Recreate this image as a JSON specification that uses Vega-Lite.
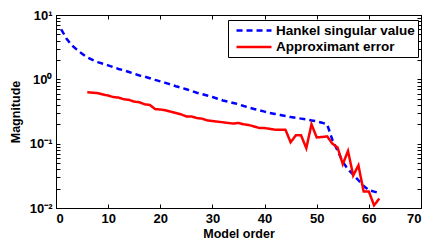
{
  "$schema": "https://vega.github.io/schema/vega-lite/v6.json",
  "width": 365,
  "height": 193,
  "autosize": "none",
  "padding": {"left": 56, "top": 15, "right": 6, "bottom": 35},
  "background": "white",
  "config": {
    "view": {"stroke": "black", "strokeWidth": 1},
    "font": "Liberation Sans",
    "axis": {
      "grid": false,
      "domainColor": "black",
      "tickColor": "black",
      "labelColor": "black",
      "titleColor": "black",
      "labelFont": "Liberation Sans",
      "titleFont": "Liberation Sans",
      "labelFontWeight": "bold",
      "titleFontWeight": "bold",
      "labelFontSize": 13,
      "titleFontSize": 12.5,
      "tickSize": -4
    }
  },
  "datasets": {
    "d": [
      {"x": 1, "v": 6.0, "s": "Hankel singular value"},
      {"x": 2, "v": 4.3, "s": "Hankel singular value"},
      {"x": 3, "v": 3.4, "s": "Hankel singular value"},
      {"x": 4, "v": 2.9, "s": "Hankel singular value"},
      {"x": 5, "v": 2.5, "s": "Hankel singular value"},
      {"x": 6, "v": 2.2, "s": "Hankel singular value"},
      {"x": 7, "v": 2.0, "s": "Hankel singular value"},
      {"x": 8, "v": 1.85, "s": "Hankel singular value"},
      {"x": 9, "v": 1.75, "s": "Hankel singular value"},
      {"x": 10, "v": 1.65, "s": "Hankel singular value"},
      {"x": 11, "v": 1.55, "s": "Hankel singular value"},
      {"x": 12, "v": 1.45, "s": "Hankel singular value"},
      {"x": 13, "v": 1.38, "s": "Hankel singular value"},
      {"x": 14, "v": 1.3, "s": "Hankel singular value"},
      {"x": 15, "v": 1.22, "s": "Hankel singular value"},
      {"x": 16, "v": 1.15, "s": "Hankel singular value"},
      {"x": 17, "v": 1.1, "s": "Hankel singular value"},
      {"x": 18, "v": 1.04, "s": "Hankel singular value"},
      {"x": 19, "v": 0.98, "s": "Hankel singular value"},
      {"x": 20, "v": 0.93, "s": "Hankel singular value"},
      {"x": 21, "v": 0.88, "s": "Hankel singular value"},
      {"x": 22, "v": 0.83, "s": "Hankel singular value"},
      {"x": 23, "v": 0.78, "s": "Hankel singular value"},
      {"x": 24, "v": 0.74, "s": "Hankel singular value"},
      {"x": 25, "v": 0.7, "s": "Hankel singular value"},
      {"x": 26, "v": 0.66, "s": "Hankel singular value"},
      {"x": 27, "v": 0.62, "s": "Hankel singular value"},
      {"x": 28, "v": 0.59, "s": "Hankel singular value"},
      {"x": 29, "v": 0.56, "s": "Hankel singular value"},
      {"x": 30, "v": 0.53, "s": "Hankel singular value"},
      {"x": 31, "v": 0.5, "s": "Hankel singular value"},
      {"x": 32, "v": 0.47, "s": "Hankel singular value"},
      {"x": 33, "v": 0.45, "s": "Hankel singular value"},
      {"x": 34, "v": 0.43, "s": "Hankel singular value"},
      {"x": 35, "v": 0.41, "s": "Hankel singular value"},
      {"x": 36, "v": 0.385, "s": "Hankel singular value"},
      {"x": 37, "v": 0.365, "s": "Hankel singular value"},
      {"x": 38, "v": 0.345, "s": "Hankel singular value"},
      {"x": 39, "v": 0.33, "s": "Hankel singular value"},
      {"x": 40, "v": 0.315, "s": "Hankel singular value"},
      {"x": 41, "v": 0.3, "s": "Hankel singular value"},
      {"x": 42, "v": 0.29, "s": "Hankel singular value"},
      {"x": 43, "v": 0.28, "s": "Hankel singular value"},
      {"x": 44, "v": 0.27, "s": "Hankel singular value"},
      {"x": 45, "v": 0.26, "s": "Hankel singular value"},
      {"x": 46, "v": 0.252, "s": "Hankel singular value"},
      {"x": 47, "v": 0.245, "s": "Hankel singular value"},
      {"x": 48, "v": 0.238, "s": "Hankel singular value"},
      {"x": 49, "v": 0.23, "s": "Hankel singular value"},
      {"x": 50, "v": 0.222, "s": "Hankel singular value"},
      {"x": 51, "v": 0.212, "s": "Hankel singular value"},
      {"x": 52, "v": 0.2, "s": "Hankel singular value"},
      {"x": 53, "v": 0.115, "s": "Hankel singular value"},
      {"x": 54, "v": 0.078, "s": "Hankel singular value"},
      {"x": 55, "v": 0.052, "s": "Hankel singular value"},
      {"x": 56, "v": 0.04, "s": "Hankel singular value"},
      {"x": 57, "v": 0.033, "s": "Hankel singular value"},
      {"x": 58, "v": 0.027, "s": "Hankel singular value"},
      {"x": 59, "v": 0.022, "s": "Hankel singular value"},
      {"x": 60, "v": 0.019, "s": "Hankel singular value"},
      {"x": 61, "v": 0.018, "s": "Hankel singular value"},
      {"x": 62, "v": 0.017, "s": "Hankel singular value"},
      {"x": 6, "v": 0.63, "s": "Approximant error"},
      {"x": 7, "v": 0.62, "s": "Approximant error"},
      {"x": 8, "v": 0.61, "s": "Approximant error"},
      {"x": 9, "v": 0.58, "s": "Approximant error"},
      {"x": 10, "v": 0.56, "s": "Approximant error"},
      {"x": 11, "v": 0.53, "s": "Approximant error"},
      {"x": 12, "v": 0.52, "s": "Approximant error"},
      {"x": 13, "v": 0.49, "s": "Approximant error"},
      {"x": 14, "v": 0.48, "s": "Approximant error"},
      {"x": 15, "v": 0.45, "s": "Approximant error"},
      {"x": 16, "v": 0.44, "s": "Approximant error"},
      {"x": 17, "v": 0.41, "s": "Approximant error"},
      {"x": 18, "v": 0.4, "s": "Approximant error"},
      {"x": 19, "v": 0.345, "s": "Approximant error"},
      {"x": 20, "v": 0.34, "s": "Approximant error"},
      {"x": 21, "v": 0.33, "s": "Approximant error"},
      {"x": 22, "v": 0.315, "s": "Approximant error"},
      {"x": 23, "v": 0.3, "s": "Approximant error"},
      {"x": 24, "v": 0.285, "s": "Approximant error"},
      {"x": 25, "v": 0.265, "s": "Approximant error"},
      {"x": 26, "v": 0.265, "s": "Approximant error"},
      {"x": 27, "v": 0.25, "s": "Approximant error"},
      {"x": 28, "v": 0.245, "s": "Approximant error"},
      {"x": 29, "v": 0.23, "s": "Approximant error"},
      {"x": 30, "v": 0.225, "s": "Approximant error"},
      {"x": 31, "v": 0.22, "s": "Approximant error"},
      {"x": 32, "v": 0.215, "s": "Approximant error"},
      {"x": 33, "v": 0.21, "s": "Approximant error"},
      {"x": 34, "v": 0.205, "s": "Approximant error"},
      {"x": 35, "v": 0.21, "s": "Approximant error"},
      {"x": 36, "v": 0.2, "s": "Approximant error"},
      {"x": 37, "v": 0.195, "s": "Approximant error"},
      {"x": 38, "v": 0.185, "s": "Approximant error"},
      {"x": 39, "v": 0.175, "s": "Approximant error"},
      {"x": 40, "v": 0.175, "s": "Approximant error"},
      {"x": 41, "v": 0.17, "s": "Approximant error"},
      {"x": 42, "v": 0.165, "s": "Approximant error"},
      {"x": 43, "v": 0.165, "s": "Approximant error"},
      {"x": 44, "v": 0.165, "s": "Approximant error"},
      {"x": 45, "v": 0.105, "s": "Approximant error"},
      {"x": 46, "v": 0.135, "s": "Approximant error"},
      {"x": 47, "v": 0.135, "s": "Approximant error"},
      {"x": 48, "v": 0.085, "s": "Approximant error"},
      {"x": 49, "v": 0.2, "s": "Approximant error"},
      {"x": 50, "v": 0.125, "s": "Approximant error"},
      {"x": 51, "v": 0.127, "s": "Approximant error"},
      {"x": 52, "v": 0.13, "s": "Approximant error"},
      {"x": 53, "v": 0.1, "s": "Approximant error"},
      {"x": 54, "v": 0.087, "s": "Approximant error"},
      {"x": 55, "v": 0.048, "s": "Approximant error"},
      {"x": 56, "v": 0.077, "s": "Approximant error"},
      {"x": 57, "v": 0.032, "s": "Approximant error"},
      {"x": 58, "v": 0.046, "s": "Approximant error"},
      {"x": 59, "v": 0.018, "s": "Approximant error"},
      {"x": 60, "v": 0.018, "s": "Approximant error"},
      {"x": 61, "v": 0.011, "s": "Approximant error"},
      {"x": 62, "v": 0.014, "s": "Approximant error"}
    ]
  },
  "data": {"name": "d"},
  "layer": [
    {
      "mark": {"type": "line", "opacity": 0},
      "encoding": {
        "x": {"field": "x", "type": "quantitative", "scale": {"domain": [0, 70], "nice": false},
          "axis": {"orient": "top", "labels": false, "title": null, "values": [0, 10, 20, 30, 40, 50, 60, 70]}},
        "y": {"field": "v", "type": "quantitative", "scale": {"type": "log", "domain": [0.01, 10], "nice": false},
          "axis": {"orient": "right", "labels": false, "title": null,
            "values": [0.01, 0.02, 0.03, 0.04, 0.05, 0.06, 0.07, 0.08, 0.09, 0.1, 0.2, 0.3, 0.4, 0.5, 0.6, 0.7, 0.8, 0.9, 1, 2, 3, 4, 5, 6, 7, 8, 9, 10]}},
        "detail": {"field": "s"}
      }
    },
    {
      "mark": {"type": "line", "strokeWidth": 2.5, "clip": true},
      "encoding": {
        "x": {"field": "x", "type": "quantitative", "scale": {"domain": [0, 70], "nice": false},
          "axis": {"orient": "bottom", "title": "Model order", "values": [0, 10, 20, 30, 40, 50, 60, 70], "labelPadding": 8, "titlePadding": 2}},
        "y": {"field": "v", "type": "quantitative", "scale": {"type": "log", "domain": [0.01, 10], "nice": false},
          "axis": {"orient": "left", "title": "Magnitude", "labelPadding": 8, "titlePadding": 7,
            "values": [0.01, 0.02, 0.03, 0.04, 0.05, 0.06, 0.07, 0.08, 0.09, 0.1, 0.2, 0.3, 0.4, 0.5, 0.6, 0.7, 0.8, 0.9, 1, 2, 3, 4, 5, 6, 7, 8, 9, 10],
            "labelExpr": "datum.value == 10 ? '10¹' : datum.value == 1 ? '10⁰' : datum.value == 0.1 ? '10⁻¹' : datum.value == 0.01 ? '10⁻²' : ''"}},
        "color": {"field": "s", "type": "nominal",
          "scale": {"domain": ["Hankel singular value", "Approximant error"], "range": ["#0000ff", "#ff0000"]},
          "legend": {"title": null, "orient": "none", "legendX": 172, "legendY": 5,
            "symbolType": "M-0.33,0H5.5", "symbolSize": 144,
            "symbolStrokeWidth": 2.5, "labelOffset": 30, "labelFont": "Liberation Sans", "labelFontWeight": "bold", "labelFontSize": 13.5,
            "labelColor": "black", "labelLimit": 300, "strokeColor": "black", "fillColor": "white", "padding": 3, "rowPadding": 2.5}},
        "strokeDash": {"field": "s", "type": "nominal",
          "scale": {"domain": ["Hankel singular value", "Approximant error"], "range": [[6, 4], [1, 0]]},
          "legend": {"title": null}}
      }
    }
  ],
  "resolve": {"axis": {"x": "independent", "y": "independent"}}
}
